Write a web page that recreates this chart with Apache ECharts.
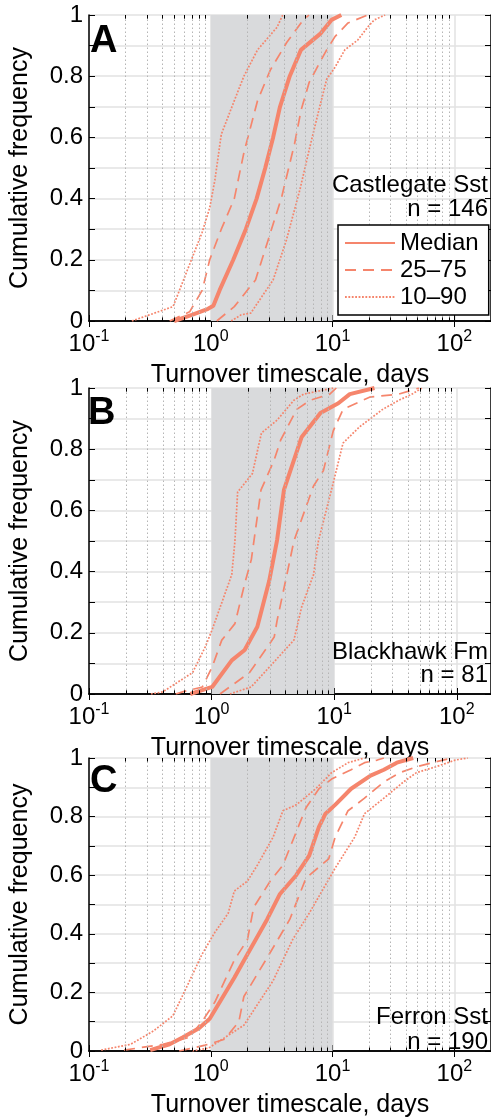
<!DOCTYPE html>
<html>
<head>
<meta charset="utf-8">
<script src="https://cdn.jsdelivr.net/npm/echarts@6/dist/echarts.min.js"></script>
<style>
html, body { margin: 0; padding: 0; background: #fff; }
#chart { width: 491px; height: 1119px; }
</style>
</head>
<body>
<div id="chart"></div>
<script>
// percentile envelopes of the cumulative curves, [days, cumulative frequency]
// panel A - Castlegate Sst
const aP10 = [[0.225,0],[0.49,0.047],[0.85,0.29],[0.98,0.37],[1.08,0.46],[1.22,0.61],[1.56,0.72],[1.87,0.80],[2.42,0.886],[3.5,0.96],[3.9,1.0]];
const aP25 = [[0.46,0],[0.67,0.03],[0.85,0.10],[0.98,0.2],[1.22,0.30],[1.56,0.40],[1.87,0.55],[2.42,0.72],[3.08,0.82],[4.2,0.91],[5.65,0.98],[6.4,1.0]];
const aP50 = [[0.5,0],[0.70,0.02],[0.95,0.04],[1.05,0.05],[1.18,0.1],[1.53,0.2],[1.94,0.3],[2.38,0.4],[2.8,0.5],[3.25,0.6],[3.7,0.7],[4.45,0.8],[5.5,0.886],[8.0,0.94],[9.8,0.984],[11.8,1.0]];
const aP75 = [[1.12,0],[1.56,0.047],[2.33,0.134],[2.96,0.265],[3.82,0.405],[4.88,0.58],[5.52,0.69],[6.43,0.78],[7.73,0.84],[8.95,0.886],[10.5,0.93],[13.4,0.974],[19.4,1.0]];
const aP90 = [[1.47,0],[1.77,0.02],[2.13,0.026],[3.25,0.134],[4.18,0.265],[5.4,0.43],[6.43,0.56],[7.73,0.69],[8.95,0.79],[10.5,0.83],[12.6,0.886],[16.1,0.918],[19.4,0.96],[22,0.984],[27,1.0]];

// panel B - Blackhawk Fm
const bP10 = [[0.32,0],[0.40,0.007],[0.70,0.07],[0.89,0.155],[1.01,0.21],[1.46,0.39],[1.55,0.50],[1.63,0.66],[2.15,0.72],[2.55,0.853],[3.42,0.895],[4.69,0.96],[5.64,0.98],[9.8,1.0]];
const bP25 = [[0.51,0],[0.58,0.007],[0.84,0.023],[1.01,0.088],[1.21,0.176],[1.55,0.23],[1.86,0.36],[2.11,0.44],[2.53,0.667],[3.24,0.765],[3.66,0.83],[4.95,0.93],[6.38,0.96],[9.2,0.98],[10.4,1.0]];
const bP50 = [[0.67,0],[1.01,0.023],[1.46,0.11],[1.86,0.144],[2.36,0.22],[2.95,0.37],[3.42,0.503],[3.89,0.667],[5.43,0.84],[7.72,0.918],[10.8,0.95],[13.4,0.98],[21.3,1.0]];
const bP75 = [[1.17,0],[2.04,0.07],[3.24,0.186],[3.42,0.24],[4.11,0.39],[4.69,0.50],[6.78,0.68],[8.16,0.73],[9.82,0.86],[11.8,0.93],[19.4,0.97],[33.7,0.98],[49.1,1.0]];
const bP90 = [[1.41,0],[2.10,0.023],[2.69,0.07],[4.69,0.176],[5.43,0.285],[6.78,0.39],[7.43,0.50],[9.82,0.69],[11.8,0.82],[16.1,0.873],[24.8,0.93],[33.7,0.96],[43.1,0.98],[52,1.0]];

// panel C - Ferron Sst
const cP10 = [[0.126,0.003],[0.22,0.023],[0.337,0.068],[0.488,0.12],[0.62,0.21],[0.847,0.33],[1.08,0.405],[1.39,0.47],[1.56,0.546],[2.0,0.58],[2.41,0.634],[3.25,0.73],[3.91,0.82],[5.03,0.84],[7.27,0.895],[9.82,0.95],[13.4,0.984],[18.3,1.0]];
const cP25 = [[0.194,0.003],[0.405,0.023],[0.66,0.046],[0.847,0.10],[1.08,0.167],[1.56,0.31],[2.0,0.38],[2.25,0.49],[3.08,0.58],[3.91,0.634],[5.35,0.775],[6.05,0.83],[7.73,0.895],[9.82,0.928],[14.2,0.96],[18.3,0.984],[23.3,0.993],[26.4,1.0]];
const cP50 = [[0.318,0.003],[0.459,0.023],[0.586,0.046],[0.80,0.078],[0.98,0.11],[1.22,0.176],[1.56,0.25],[2.0,0.33],[2.9,0.449],[3.7,0.536],[5.03,0.60],[6.43,0.667],[7.73,0.765],[8.75,0.81],[10.5,0.84],[14.2,0.895],[20.5,0.94],[26.4,0.96],[33.7,0.984],[45.9,1.0]];
const cP75 = [[0.55,0],[0.9,0.02],[1.3,0.04],[1.7,0.1],[1.87,0.186],[2.9,0.318],[4.45,0.449],[6.05,0.59],[9.3,0.656],[10.5,0.73],[13.4,0.82],[18.3,0.863],[26.4,0.918],[35.6,0.95],[48.8,0.97],[70.5,0.987],[95.9,1.0]];
const cP90 = [[0.705,0],[0.96,0.01],[1.87,0.088],[3.25,0.24],[4.7,0.38],[6.43,0.47],[10.5,0.624],[15.2,0.73],[18.3,0.81],[26.4,0.863],[38.2,0.918],[48.8,0.95],[70.5,0.97],[102,0.993],[129,1.0]];

const panelLetters = ['A', 'B', 'C'];
const formations = ['Castlegate Sst', 'Blackhawk Fm', 'Ferron Sst'];
const sampleSizes = [146, 81, 190];
const shadedRange = [1, 10]; // days
const legendNames = ['Median', '25–75', '10–90'];

const curves = [
  [aP10, aP25, aP50, aP75, aP90],
  [bP10, bP25, bP50, bP75, bP90],
  [cP10, cP25, cP50, cP75, cP90]
];

// layout of the three panels
const panels = [
  { left: 84, top: 15, width: 412, max: 200, letterY: 42, textY: [185, 209] },
  { left: 82, top: 388, width: 409, max: 190, letterY: 414, textY: [652, 675] },
  { left: 84, top: 758, width: 412, max: 200, letterY: 782, textY: [1017, 1042] }
];
const plotH = 306;

const lineColor = '#f5856c';
const font = 'Liberation Sans, Arial, sans-serif';

// minor log positions 2..9 per decade
const minorVals = [];
[0.1, 1, 10, 100].forEach(d => {
  for (let m = 2; m <= 9; m++) minorVals.push(+(m * d).toPrecision(3));
});

const chart = echarts.init(document.getElementById('chart'), null, { renderer: 'canvas' });

const grid = [], xAxis = [], yAxis = [], series = [], graphic = [];

panels.forEach((p, i) => {
  grid.push({ left: p.left, top: p.top, width: p.width, height: plotH });
  const minors = minorVals.filter(v => v < p.max);

  // bottom axis
  xAxis.push({
    type: 'log', logBase: 10, gridIndex: i, min: 0.1, max: p.max,
    name: 'Turnover timescale, days', nameLocation: 'middle', nameGap: 42,
    nameTextStyle: { fontSize: 25, color: '#000', fontFamily: font },
    axisLine: { lineStyle: { color: '#000', width: 1.5 } },
    axisTick: { inside: true, length: 6, lineStyle: { color: '#000', width: 1 } },
    axisLabel: {
      margin: 8, color: '#000', fontFamily: font, showMaxLabel: false,
      formatter: v => {
        const e = Math.log10(v);
        if (Math.abs(e - Math.round(e)) > 1e-6) return '';
        return '{b|10}{s|' + Math.round(e) + '}';
      },
      rich: {
        b: { fontSize: 24, fontFamily: font, color: '#000' },
        s: { fontSize: 16, fontFamily: font, color: '#000', padding: [0, 0, 14, 0] }
      }
    },
    splitLine: { show: true, lineStyle: { color: '#e2e2e2', width: 1.5 } }
  });
  // top axis (box)
  xAxis.push({
    type: 'log', logBase: 10, gridIndex: i, min: 0.1, max: p.max, position: 'top',
    axisLine: { lineStyle: { color: '#000', width: 1.5 } },
    axisTick: { inside: true, length: 6, lineStyle: { color: '#000' } },
    axisLabel: { show: false }, splitLine: { show: false }
  });
  yAxis.push({
    type: 'value', gridIndex: i, min: 0, max: 1, interval: 0.1,
    name: 'Cumulative frequency', nameLocation: 'middle', nameGap: 56,
    nameTextStyle: { fontSize: 25, color: '#000', fontFamily: font },
    axisLine: { show: true, lineStyle: { color: '#000', width: 1.5 } },
    axisTick: { show: true, inside: true, length: 6, lineStyle: { color: '#000' } },
    axisLabel: {
      margin: 6, fontSize: 24, color: '#000', fontFamily: font,
      formatter: v => {
        const k = Math.round(v * 10);
        if (k % 2) return '';
        return k === 0 ? '0' : k === 10 ? '1' : (k / 10).toFixed(1);
      }
    },
    splitLine: { show: true, lineStyle: { color: '#e2e2e2', width: 1.5 } }
  });
  yAxis.push({
    type: 'value', gridIndex: i, min: 0, max: 1, interval: 0.1, position: 'right',
    axisLine: { show: true, lineStyle: { color: '#000', width: 1.5 } },
    axisTick: { show: true, inside: true, length: 6, lineStyle: { color: '#000' } },
    axisLabel: { show: false }, splitLine: { show: false }
  });

  const xi = 2 * i, yi = 2 * i;

  // shaded 1-10 day band, under the grid lines
  series.push({
    type: 'line', xAxisIndex: xi, yAxisIndex: yi, data: [], z: -1, silent: true,
    markArea: {
      silent: true,
      itemStyle: { color: '#d9dadc' },
      data: [[{ xAxis: shadedRange[0] }, { xAxis: shadedRange[1] }]]
    }
  });
  // dotted minor grid lines + minor ticks
  const tickLen = 0.012;
  const tickData = [];
  minors.forEach(v => {
    tickData.push([{ coord: [v, 0] }, { coord: [v, tickLen] }]);
    tickData.push([{ coord: [v, 1 - tickLen] }, { coord: [v, 1] }]);
  });
  series.push({
    type: 'line', xAxisIndex: xi, yAxisIndex: yi, data: [], z: 1, silent: true,
    markLine: {
      silent: true, symbol: ['none', 'none'], label: { show: false },
      lineStyle: { color: '#b5b5b5', width: 1, type: [1.5, 2.5] },
      emphasis: { disabled: true },
      data: minors.map(v => ({ xAxis: v }))
    }
  });
  series.push({
    type: 'line', xAxisIndex: xi, yAxisIndex: yi, data: [], z: 5, silent: true,
    markLine: {
      silent: true, symbol: ['none', 'none'], label: { show: false },
      lineStyle: { color: '#000', width: 1, type: 'solid' },
      emphasis: { disabled: true },
      data: tickData
    }
  });

  const c = curves[i];
  const dotted = { width: 1.7, type: [1.8, 1.6] };
  const dashed = { width: 1.7, type: [11, 7] };
  const styles = [
    { name: '10–90', data: c[0], lineStyle: dotted },
    { name: '25–75', data: c[1], lineStyle: dashed },
    { name: 'Median', data: c[2], lineStyle: { width: 4, type: 'solid' } },
    { name: '25–75', data: c[3], lineStyle: dashed },
    { name: '10–90', data: c[4], lineStyle: dotted }
  ];
  styles.forEach(s => {
    series.push({
      type: 'line', name: s.name, xAxisIndex: xi, yAxisIndex: yi,
      data: s.data, symbol: 'none', showSymbol: false, z: 3,
      color: lineColor,
      lineStyle: Object.assign({ color: lineColor }, s.lineStyle)
    });
  });

  // panel letter and formation label
  graphic.push({
    type: 'text', left: p.left + 6, top: p.letterY - 19, z: 10,
    style: { text: panelLetters[i], font: 'bold 38px ' + font, fill: '#000' }
  });
  graphic.push({
    type: 'text', z: 10, x: 488, y: p.textY[0],
    style: { text: formations[i], font: '24px ' + font, fill: '#000', align: 'right', verticalAlign: 'middle' }
  });
  graphic.push({
    type: 'text', z: 10, x: 488, y: p.textY[1],
    style: { text: 'n = ' + sampleSizes[i], font: '24px ' + font, fill: '#000', align: 'right', verticalAlign: 'middle' }
  });
});

chart.setOption({
  animation: false,
  backgroundColor: '#fff',
  grid: grid,
  xAxis: xAxis,
  yAxis: yAxis,
  legend: {
    data: legendNames,
    orient: 'vertical',
    left: 338, top: 225,
    padding: [6, 10, 6, 6],
    itemGap: 3,
    itemWidth: 50, itemHeight: 14,
    backgroundColor: '#fff',
    borderColor: '#000', borderWidth: 1.5, borderRadius: 0,
    selectedMode: false,
    itemStyle: { opacity: 0 },
    textStyle: { fontSize: 24, lineHeight: 24, color: '#000', fontFamily: font },
    z: 10
  },
  graphic: graphic,
  series: series
});
</script>
</body>
</html>
